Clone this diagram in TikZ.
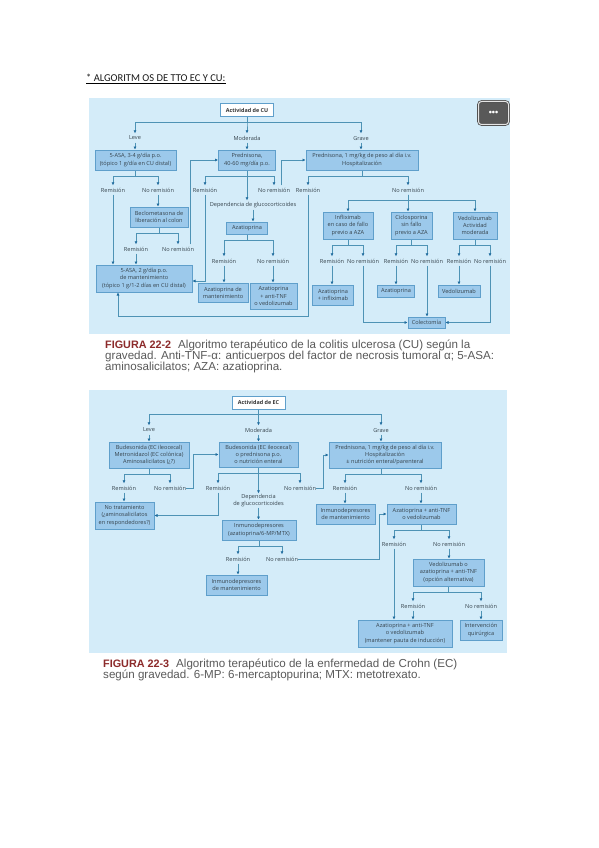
\documentclass[tikz,border=0pt]{standalone}
\usepackage{fontspec}
\setmainfont{Liberation Sans}
\newfontfamily\boxfont{Open Sans}
\newfontfamily\titlefont{Carlito}
\usetikzlibrary{arrows.meta,positioning,calc}
\definecolor{panelblue}{HTML}{D4ECF9}
\definecolor{boxblue}{HTML}{9CC9EB}
\definecolor{edgeblue}{HTML}{5F9FCB}
\definecolor{lineblue}{HTML}{4E93B5}
\definecolor{tipblue}{HTML}{1F6C9E}
\definecolor{inkgray}{HTML}{36434C}
\definecolor{capgray}{HTML}{5A5A5A}
\definecolor{capred}{HTML}{8C2A2A}
\tikzset{
  box/.style={draw=edgeblue,line width=1pt,fill=boxblue,inner sep=0pt,align=center,
    text=inkgray,font=\boxfont\fontsize{5.6}{7.2}\selectfont},
  topbox/.style={draw=edgeblue,line width=1pt,fill=white,inner sep=0pt,
    text=black!80,font=\boxfont\bfseries\fontsize{5.4}{7.2}\selectfont},
  lab/.style={inner sep=0pt,minimum height=9pt,align=center,text=inkgray,
    font=\boxfont\fontsize{5.6}{7.2}\selectfont},
  flow/.style={lineblue,line width=0.9pt,-{Latex[length=3pt,width=3.2pt,color=tipblue]}},
  plain/.style={lineblue,line width=0.9pt},
  caption/.style={anchor=north west,inner sep=0pt,align=left,text=capgray,
    font=\fontsize{11.6}{11}\selectfont}
}
\begin{document}
\begin{tikzpicture}[x=1pt,y=-1pt]
  \fill[white] (0,0) rectangle (599,848);
  \useasboundingbox (0,0) rectangle (599,848);

  % titulo
  \node[inner sep=0pt,anchor=west,text=black!90,font=\titlefont\fontsize{10.5}{12}\selectfont] (titulo) at (86,78) {* ALGORITM OS DE TTO EC Y CU:};
  \draw[gray!70,line width=0.8pt] ([yshift=-1.9pt]titulo.south west) -- ([yshift=-1.9pt]titulo.south east);
  \draw[black,line width=0.6pt] ([yshift=-1pt]titulo.south west) -- ([yshift=-1pt]titulo.south east);

  % figura 22-2
  \fill[panelblue] (89,98) rectangle (510,334);
  \node[topbox,minimum width=53,minimum height=13] (actcu) at (247,110.5) {Actividad de CU};
  \node[lab] (leve) at (135,138) {Leve};
  \node[lab] (moderada) at (247,138) {Moderada};
  \node[lab] (grave) at (361,138) {Grave};
  \node[box,minimum width=81,minimum height=20] (asaleve) at (135.5,160) {5-ASA, 3-4 g/día p.o.\\(tópico 1 g/día en CU distal)};
  \node[box,minimum width=57,minimum height=20] (predmod) at (247,160) {Prednisona,\\40-60 mg/día p.o.};
  \node[box,minimum width=112,minimum height=20] (predgrave) at (362,160) {Prednisona, 1 mg/kg de peso al día i.v.\\Hospitalización};

  \node[lab] (remleve) at (113,190) {Remisión};
  \node[lab] (noleve) at (158,190) {No remisión};
  \node[lab] (remmod) at (205,190) {Remisión};
  \node[lab] (nomod) at (274,190) {No remisión};
  \node[lab] (remgrave) at (308,190) {Remisión};
  \node[lab] (nograve) at (408,190) {No remisión};
  \node[lab] (depcu) at (253,205) {Dependencia de glucocorticoides};

  \node[box,minimum width=58,minimum height=20] (beclo) at (159,217) {Beclometasona de\\liberación al colon};
  \node[box,minimum width=41,minimum height=12] (azacu) at (247,228) {Azatioprina};
  \node[box,minimum width=50,minimum height=27] (inflix) at (348,225.5) {Infliximab\\en caso de fallo\\previo a AZA};
  \node[box,minimum width=41,minimum height=27] (ciclo) at (411.5,225.5) {Ciclosporina\\sin fallo\\previo a AZA};
  \node[box,minimum width=44,minimum height=27] (vedo) at (475,225.5) {Vedolizumab\\Actividad\\moderada};

  \node[lab] (rembeclo) at (136,249) {Remisión};
  \node[lab] (nobeclo) at (178,249) {No remisión};
  \node[lab] (remaza) at (224,261) {Remisión};
  \node[lab] (noaza) at (273,261) {No remisión};
  \node[lab] (reminf) at (332,261) {Remisión};
  \node[lab] (noinf) at (363,261) {No remisión};
  \node[lab] (remcic) at (396,261) {Remisión};
  \node[lab] (nocic) at (427,261) {No remisión};
  \node[lab] (remved) at (459,261) {Remisión};
  \node[lab] (noved) at (490,261) {No remisión};

  \node[box,minimum width=96,minimum height=27] (asamant) at (144,278.5) {5-ASA, 2 g/día p.o.\\de mantenimiento\\(tópico 1 g/1-2 días en CU distal)};
  \node[box,minimum width=50,minimum height=19] (azamant) at (223,292.5) {Azatioprina de\\mantenimiento};
  \node[box,minimum width=47,minimum height=26] (azatnf) at (273.5,296) {Azatioprina\\+ anti-TNF\\o vedolizumab};
  \node[box,minimum width=41,minimum height=20] (azainf) at (333,295) {Azatioprina\\+ infliximab};
  \node[box,minimum width=37,minimum height=12] (azasola) at (396,291) {Azatioprina};
  \node[box,minimum width=42,minimum height=12] (vedosolo) at (459,291) {Vedolizumab};
  \node[box,minimum width=37,minimum height=11] (colec) at (426.5,322.5) {Colectomía};

  \foreach \etq in {leve,moderada,grave}{
    \draw[flow] (actcu.south) -- ++(0,5) -| (\etq.north);
  }
  \foreach \caja/\izq/\der in {asaleve/remleve/noleve,predmod/remmod/nomod,predgrave/remgrave/nograve,
      beclo/rembeclo/nobeclo,azacu/remaza/noaza,inflix/reminf/noinf,ciclo/remcic/nocic,vedo/remved/noved}{
    \draw[plain] (\caja.south) -- ++(0,6) coordinate (bus);
    \draw[flow] (bus) -| (\izq.north);
    \draw[flow] (bus) -| (\der.north);
  }
  \foreach \caja in {inflix,vedo}{
    \draw[flow] (nograve.south) -- ++(0,6) -| (\caja.north);
  }
  \foreach \de/\a in {leve/asaleve,moderada/predmod,grave/predgrave,remleve/asamant,noleve/beclo,rembeclo/asamant,
      predmod/depcu,depcu/azacu,remaza/azamant,noaza/azatnf,reminf/azainf,remcic/azasola,remved/vedosolo,nocic/colec,nograve/ciclo}{
    \draw[flow] (\de.south) -- (\de.south |- \a.north);
  }
  \draw[flow] ([xshift=12pt]nobeclo.north) |- (predmod.west);
  \draw[flow] ([xshift=7pt]nomod.north) |- (predgrave.west);
  \draw[flow] (remmod.south) |- ([yshift=-2.5pt]asamant.east);
  \coordinate (retorno) at (118,316);
  \draw[flow] (remgrave.south) |- (retorno) -- (retorno |- asamant.south);
  \draw[flow] (noinf.south) |- (colec.west);
  \draw[flow] (noved.south) |- (colec.east);

  % boton
  \node[draw=gray!65!black,double=gray!20,double distance=1pt,line width=0.8pt,fill=gray!70!black,rounded corners=3pt,
    minimum width=30,minimum height=23,inner sep=0pt,text=white,font=\bfseries\fontsize{9}{10}\selectfont] (menu) at (493.5,113) {•••};

  \node[caption] (capcu) at (105,339.5) {\textcolor{capred}{\textbf{\fontsize{10.8}{11}\selectfont FIGURA 22-2}}\hspace{7pt}Algoritmo terapéutico de la colitis ulcerosa (CU) según la\\gravedad. Anti-TNF-α: anticuerpos del factor de necrosis tumoral α; 5-ASA:\\aminosalicilatos; AZA: azatioprina.};

  % figura 22-3
  \fill[panelblue] (89,390) rectangle (507,653);
  \node[topbox,minimum width=53,minimum height=13] (actec) at (258.5,402.5) {Actividad de EC};
  \node[lab] (leveec) at (149,430) {Leve};
  \node[lab] (modec) at (258.5,430) {Moderada};
  \node[lab] (graveec) at (381,430) {Grave};
  \node[box,minimum width=80,minimum height=26] (budleve) at (149,455) {Budesonida (EC ileocecal)\\Metronidazol (EC colónica)\\Aminosalicilatos (¿?)};
  \node[box,minimum width=79,minimum height=25] (budmod) at (258.5,454.5) {Budesonida (EC ileocecal)\\o prednisona p.o.\\o nutrición enteral};
  \node[box,minimum width=112,minimum height=26] (predec) at (385,455) {Prednisona, 1 mg/kg de peso al día i.v.\\Hospitalización\\± nutrición enteral/parenteral};

  \node[lab] (remlev) at (124,488) {Remisión};
  \node[lab] (nolev) at (170,488) {No remisión};
  \node[lab] (remmd) at (218,488) {Remisión};
  \node[lab] (nomd) at (300,488) {No remisión};
  \node[lab] (remgr) at (345,488) {Remisión};
  \node[lab] (nogr) at (421,488) {No remisión};
  \node[lab,minimum height=14pt] (depec) at (258.5,500.5) {Dependencia\\de glucocorticoides};

  \node[box,minimum width=59,minimum height=27] (notrat) at (124.5,515.5) {No tratamiento\\(¿aminosalicilatos\\en respondedores?)};
  \node[box,minimum width=74,minimum height=20] (inmuno) at (259,530) {Inmunodepresores\\(azatioprina/6-MP/MTX)};
  \node[box,minimum width=59,minimum height=20] (inmgr) at (345.5,514) {Inmunodepresores\\de mantenimiento};
  \node[box,minimum width=69,minimum height=20] (azagr) at (421.5,514) {Azatioprina + anti-TNF\\o vedolizumab};

  \node[lab] (reminm) at (238,559) {Remisión};
  \node[lab] (noinm) at (282,559) {No remisión};
  \node[lab] (remaz) at (394,544) {Remisión};
  \node[lab] (noaz) at (449,544) {No remisión};
  \node[box,minimum width=61,minimum height=20] (inmmant) at (236.5,585) {Inmunodepresores\\de mantenimiento};
  \node[box,minimum width=71,minimum height=27] (vedoalt) at (448.5,572.5) {Vedolizumab o\\azatioprina + anti-TNF\\(opción alternativa)};
  \node[lab] (remalt) at (413,606) {Remisión};
  \node[lab] (noalt) at (481,606) {No remisión};
  \node[box,minimum width=94,minimum height=27] (azafin) at (405,633.5) {Azatioprina + anti-TNF\\o vedolizumab\\(mantener pauta de inducción)};
  \node[box,minimum width=42,minimum height=20] (cirugia) at (481,630) {Intervención\\quirúrgica};

  \foreach \etq in {leveec,modec}{
    \draw[flow] (actec.south) -- ++(0,5) -| (\etq.north);
  }
  \draw[flow] (actec.south) -- ++(0,5) -| (graveec.north);
  \foreach \caja/\izq/\der in {budleve/remlev/nolev,budmod/remmd/nomd,inmuno/reminm/noinm,azagr/remaz/noaz,vedoalt/remalt/noalt}{
    \draw[plain] (\caja.south) -- ++(0,6) coordinate (bus);
    \draw[flow] (bus) -| (\izq.north);
    \draw[flow] (bus) -| (\der.north);
  }
  \draw[plain] (graveec.south |- predec.south) -- ++(0,6) coordinate (bus);
  \draw[flow] (bus) -| (remgr.north);
  \draw[flow] (bus) -| (nogr.north);
  \foreach \de/\a in {leveec/budleve,modec/budmod,graveec/predec,remlev/notrat,budmod/depec,depec/inmuno,
      reminm/inmmant,remgr/inmgr,nogr/azagr,noaz/vedoalt,remaz/azafin,remalt/azafin,noalt/cirugia}{
    \draw[flow] (\de.south) -- (\de.south |- \a.north);
  }
  \coordinate (codolev) at (193,488);
  \coordinate (codomd) at (323,488);
  \coordinate (codoinm) at (379,559);
  \draw[flow] (nolev.east) -- (codolev) |- (budmod.west);
  \draw[flow] (nomd.east) -- (codomd) |- (predec.west);
  \draw[flow] (noinm.east) -- (codoinm) |- (azagr.west);
  \draw[flow] (remmd.south) |- (notrat.east);

  \node[caption] (capec) at (103,658.5) {\textcolor{capred}{\textbf{\fontsize{10.8}{11}\selectfont FIGURA 22-3}}\hspace{7pt}Algoritmo terapéutico de la enfermedad de Crohn (EC)\\según gravedad. 6-MP: 6-mercaptopurina; MTX: metotrexato.};
\end{tikzpicture}
\end{document}
